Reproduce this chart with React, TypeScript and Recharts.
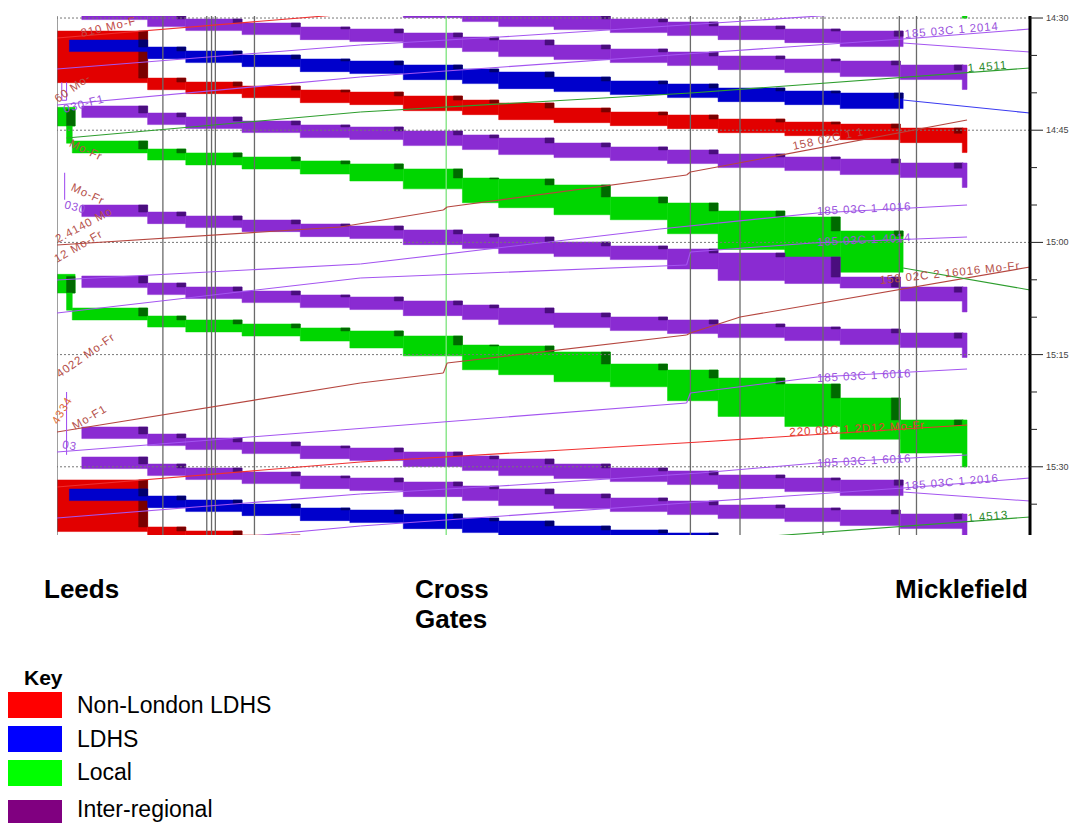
import React from 'react';
import { ComposedChart, XAxis, YAxis, ReferenceArea, ReferenceLine, ReferenceDot } from 'recharts';

// ---- distance axis (miles from Leeds) ----
const SECTION_BOUNDS = [0.26, 0.95, 1.35, 1.94, 2.55, 3.07, 3.63, 4.25, 4.63, 5.21, 5.8, 6.4, 6.93, 7.63, 8.21, 8.84, 9.5];
const TAIL_END_MILE = 9.54;
const TIMING_POINTS = [0, 1.11, 1.57, 1.62, 1.66, 2.07, 6.64, 7.16, 8.03, 8.83, 9.01];
const CROSS_GATES_MILE = 4.08;
const STATIONS = [
  { name: ['Leeds'], x: 44 },
  { name: ['Cross', 'Gates'], x: 415 },
  { name: ['Micklefield'], x: 895 },
];

// ---- time axis (minutes after 14:00) ----
const TIME_DOMAIN = [29.73, 99.12];
const TIME_TICKS = [30, 35, 40, 45, 50, 55, 60, 65, 70, 75, 80, 85, 90, 95];
const GRID_TIMES = [30, 45, 60, 75, 90];

// ---- blocking profiles: occupation start / end per section (minutes from start) ----
const EXPRESS_TOP = [0, 0.94, 1.47, 2.01, 2.54, 2.81, 3.34, 3.88, 4.28, 4.95, 5.48, 5.88, 6.42, 6.82, 7.09, 7.62];
const EXPRESS_BOTTOM = [1.55, 2.49, 3.02, 3.56, 4.23, 4.49, 5.3, 5.83, 6.5, 6.9, 7.3, 7.7, 8.24, 8.64, 9.17, 9.57];
const EXPRESS_TAIL = 10.9;

const LOCAL_TOP = [0, 1.07, 1.6, 2.14, 2.67, 3.07, 3.74, 4.95, 5.08, 5.88, 7.49, 8.29, 9.36, 10.16, 12.03, 14.97];
const LOCAL_BOTTOM = [1.6, 2.55, 3.2, 3.75, 4.42, 5.35, 6.4, 8.26, 8.92, 9.86, 10.53, 12.4, 14.5, 15.85, 17.55, 19.4];
const LOCAL_TAIL = 21.26;

const HELD_TOP = [0, 0.94, 1.47, 2.01, 2.54, 2.81, 3.34, 3.88, 4.28, 4.95, 5.48, 5.88, 6.42, 6.95, 9.63, 10.96];
const HELD_BOTTOM = [1.55, 2.49, 3.02, 3.56, 4.23, 4.49, 5.3, 5.83, 6.5, 6.9, 7.3, 8.55, 10.1, 10.5, 11.1, 12.85];
const HELD_TAIL = 14.3;

const PROFILES: Record<string, { top: number[]; bottom: number[]; tail: number }> = {
  express: { top: EXPRESS_TOP, bottom: EXPRESS_BOTTOM, tail: EXPRESS_TAIL },
  local: { top: LOCAL_TOP, bottom: LOCAL_BOTTOM, tail: LOCAL_TAIL },
  held: { top: HELD_TOP, bottom: HELD_BOTTOM, tail: HELD_TAIL },
};

// ---- down trains (thick blocking bands) ----
const TRAINS = [
  { id: 'G0', service: 'local', start: 8.77, profile: 'local', last: 15, tail: true },
  { id: '1A', service: 'inter', start: 24.65, profile: 'express', last: 14, endMile: 8.87 },
  { id: '1B', service: 'inter', start: 28.66, profile: 'express', last: 15, tail: true },
  { id: '1R', service: 'nonLondon', start: 37.09, profile: 'express', last: 15, tail: true, firstMile: 0, dwellTop: -5.35 },
  { id: '1L', service: 'ldhs', start: 32.94, profile: 'express', last: 14, endMile: 8.87, firstMile: 0.13 },
  { id: '1C', service: 'inter', start: 41.76, profile: 'express', last: 15, tail: true },
  { id: 'G1', service: 'local', start: 46.44, profile: 'local', last: 14, endMile: 8.87, firstMile: 0.16, leedsDwell: true },
  { id: '1D', service: 'inter', start: 55.0, profile: 'held', last: 15, tail: true },
  { id: '1E', service: 'inter', start: 64.49, profile: 'express', last: 15, tail: true },
  { id: 'G2', service: 'local', start: 68.77, profile: 'local', last: 15, tail: true, firstMile: 0.16, leedsDwell: true },
  { id: '2A', service: 'inter', start: 84.68, profile: 'express', last: 14, endMile: 8.87 },
  { id: '2B', service: 'inter', start: 88.69, profile: 'express', last: 15, tail: true },
  { id: '2R', service: 'nonLondon', start: 97.11, profile: 'express', last: 15, tail: true, firstMile: 0, dwellTop: -5.35 },
  { id: '2L', service: 'ldhs', start: 92.97, profile: 'express', last: 14, endMile: 8.87, firstMile: 0.13 },
];

const SERVICE_COLORS: Record<string, [string, string]> = {
  nonLondon: ['#E20000', '#7A0000'],
  ldhs: ['#0000CC', '#00006E'],
  local: ['#00D600', '#006A00'],
  inter: ['#8A2BD2', '#4A0E7E'],
};

// ---- thin path lines [mile, minute] ----
const THIN_LINES = [
  { color: '#B5463F', pts: [[0, 60.35], [2.97, 57.94], [4.05, 55.67], [4.09, 55.27], [6.6, 50.99], [6.64, 50.59], [9.54, 43.64]] },
  { color: '#B5463F', pts: [[0, 85.35], [0.45, 84.41], [3.18, 78.8], [4.05, 77.46], [4.09, 76.12], [6.6, 72.38], [6.64, 72.11], [7.13, 70.11], [7.16, 69.97], [10.2, 63.29]] },
  { color: '#F03030', pts: [[0, 32.67], [3.18, 29.33]] },
  { color: '#F03030', pts: [[0, 92.7], [3.18, 89.36], [6.74, 86.68], [9.54, 84.41]] },
  { color: '#A455F0', pts: [[0, 41.63], [3.18, 37.89], [6.74, 34.68], [8.87, 32.81], [10.2, 31.47]] },
  { color: '#A455F0', pts: [[0, 101.66], [3.18, 97.92], [6.74, 94.71], [8.87, 92.84], [10.2, 91.5]] },
  { color: '#A455F0', pts: [[0, 36.82], [3.18, 33.61], [4.64, 32.54], [6.74, 30.8], [9.54, 28.4]] },
  { color: '#A455F0', pts: [[0, 96.84], [3.18, 93.64], [4.64, 92.57], [6.74, 90.83], [7.97, 89.49], [9.54, 88.42]] },
  { color: '#A455F0', pts: [[0, 65.03], [3.18, 62.89], [6.32, 58.21], [7.97, 56.07], [9.54, 55.0]] },
  { color: '#A455F0', pts: [[0, 69.44], [3.18, 64.76], [6.6, 63.02], [6.64, 61.28], [7.92, 60.08], [9.54, 59.28]] },
  { color: '#A455F0', pts: [[0, 88.02], [2.97, 85.08], [6.6, 81.47], [6.64, 80.13], [7.97, 77.99], [9.54, 76.93]] },
  { color: '#2E9E2E', pts: [[0.1, 46.04], [3.18, 42.57], [6.64, 40.03], [10.2, 36.68]] },
  { color: '#2E9E2E', pts: [[0.1, 106.07], [3.18, 102.6], [6.64, 100.06], [10.2, 96.71]] },
  { color: '#2E9E2E', pts: [[8.87, 63.42], [10.2, 66.36]] },
  { color: '#3A3AF0', pts: [[8.87, 40.96], [10.2, 42.7]] },
  { color: '#A455F0', pts: [[8.87, 33.34], [10.2, 34.55]] },
  { color: '#A455F0', pts: [[8.87, 93.37], [10.2, 94.58]] },
  { color: '#A455F0', pts: [[0.05, 38.6], [0.05, 41.0], [0.1, 41.0], [0.1, 38.6]] },
  { color: '#A455F0', pts: [[0.08, 50.7], [0.08, 54.3]] },
  { color: '#A455F0', pts: [[0.1, 80.0], [0.1, 88.4]] },
];

// ---- path labels ----
const LINE_LABELS = [
  { text: '185  03C  1 2014', mile: 8.89, t: 32.67, color: '#9A52DD', angle: -5 },
  { text: '1 4511', mile: 9.55, t: 37.22, color: '#2A8A2A', angle: -5 },
  { text: '158  02C  1 1', mile: 7.72, t: 47.65, color: '#B5504A', angle: -12 },
  { text: '185  03C  1 4016', mile: 7.97, t: 56.34, color: '#9A52DD', angle: -3 },
  { text: '185  03C  1 4014', mile: 7.97, t: 60.48, color: '#9A52DD', angle: -3 },
  { text: '158  02C  2 16016 Mo-Fr', mile: 8.63, t: 65.56, color: '#B5504A', angle: -6 },
  { text: '185  03C  1 6016', mile: 7.97, t: 78.66, color: '#9A52DD', angle: -3 },
  { text: '220  03C  1 2D12 Mo-Fr', mile: 7.68, t: 85.88, color: '#E04030', angle: -3 },
  { text: '185  03C  1 6016', mile: 7.97, t: 90.03, color: '#9A52DD', angle: -3 },
  { text: '185  03C  1 2016', mile: 8.89, t: 93.1, color: '#9A52DD', angle: -5 },
  { text: '1 4513', mile: 9.55, t: 97.38, color: '#2A8A2A', angle: -5 },
  { text: '810 Mo-F', mile: 0.26, t: 32.54, color: '#C04848', angle: -13 },
  { text: '60 Mo-', mile: 0.01, t: 41.36, color: '#B5504A', angle: -35 },
  { text: '030-F1', mile: 0.08, t: 42.7, color: '#9A52DD', angle: -15 },
  { text: 'Mo-Fr', mile: 0.12, t: 47.11, color: '#B5504A', angle: 25 },
  { text: 'Mo-Fr', mile: 0.14, t: 53.0, color: '#B5504A', angle: 25 },
  { text: '030', mile: 0.07, t: 55.4, color: '#9A52DD', angle: 15 },
  { text: '2.4140 Mo', mile: 0.01, t: 60.08, color: '#B5504A', angle: -28 },
  { text: '12 Mo-Fr', mile: 0.0, t: 62.75, color: '#B5504A', angle: -30 },
  { text: '4022 Mo-Fr', mile: 0.03, t: 78.13, color: '#B5504A', angle: -35 },
  { text: '4334', mile: 0.01, t: 84.41, color: '#E07040', angle: -60 },
  { text: 'Mo-F1', mile: 0.19, t: 85.08, color: '#B5504A', angle: -30 },
  { text: '03', mile: 0.05, t: 87.49, color: '#9A52DD', angle: 10 },
];

const KEY_ITEMS = [
  { label: 'Non-London LDHS', color: '#FF0000', y: 692, base: 713 },
  { label: 'LDHS', color: '#0000FF', y: 726, base: 747 },
  { label: 'Local', color: '#00FF00', y: 760, base: 780 },
  { label: 'Inter-regional', color: '#800080', y: 800, base: 817 },
];

const DARK_W = 0.094;

function trainRects(train: any) {
  const prof = PROFILES[train.profile];
  const [fill, dark] = SERVICE_COLORS[train.service];
  const rects: any[] = [];
  const s = train.start;
  if (train.leedsDwell) {
    rects.push({ x1: 0, x2: 0.19, y1: s - 4.5, y2: s - 2.0, fill });
    rects.push({ x1: 0.1, x2: 0.19, y1: s - 4.2, y2: s - 2.0, fill: dark });
    rects.push({ x1: 0.1, x2: 0.16, y1: s - 2.0, y2: s + 0.3, fill });
  }
  for (let i = 0; i <= train.last; i++) {
    let x1 = SECTION_BOUNDS[i];
    let x2 = SECTION_BOUNDS[i + 1];
    if (i === 0 && train.firstMile != null) x1 = train.firstMile;
    if (i === train.last && train.endMile != null) x2 = train.endMile;
    let top = s + prof.top[i];
    if (i === 0 && train.dwellTop != null) top = s + train.dwellTop;
    const bottom = s + prof.bottom[i];
    rects.push({ x1, x2, y1: top, y2: bottom, fill });
    const nextTop = i < train.last ? s + prof.top[i + 1] : top + 0.7;
    rects.push({ x1: x2 - DARK_W, x2, y1: top, y2: nextTop, fill: dark });
  }
  if (train.tail) {
    rects.push({ x1: SECTION_BOUNDS[16] - 0.01, x2: TAIL_END_MILE, y1: s + prof.top[15], y2: s + prof.tail, fill });
  }
  return rects;
}

const fmtTime = (v: number) => {
  const h = 14 + Math.floor(v / 60);
  const m = v % 60;
  return `${h}:${m < 10 ? '0' + m : m}`;
};

const TimeTick = (props: any) => {
  const { x, y, payload } = props;
  const v = payload.value;
  const major = v % 15 === 0;
  return (
    <g>
      <line x1={x} x2={x + (major ? 13 : 7)} y1={y} y2={y} stroke="#222" strokeWidth={1} />
      {major && (
        <text x={x + 16} y={y + 3} fontSize={9} fill="#444">
          {fmtTime(v)}
        </text>
      )}
    </g>
  );
};

const AXIS_DATA = [{ mile: 0, t: 30 }, { mile: 10.2, t: 99 }];

export default function App() {
  const bandRects: any[] = [];
  TRAINS.forEach((tr) => {
    trainRects(tr).forEach((r, j) => bandRects.push({ ...r, key: `${tr.id}-${j}` }));
  });

  const segments: any[] = [];
  THIN_LINES.forEach((ln, i) => {
    for (let j = 0; j < ln.pts.length - 1; j++) {
      segments.push({
        key: `ln-${i}-${j}`,
        color: ln.color,
        a: { x: ln.pts[j][0], y: ln.pts[j][1] },
        b: { x: ln.pts[j + 1][0], y: ln.pts[j + 1][1] },
      });
    }
  });

  return (
    <div
      style={{
        position: 'absolute',
        left: 0,
        top: 0,
        width: 1075,
        height: 823,
        background: '#fff',
        overflow: 'hidden',
        fontFamily: '"Liberation Sans", Arial, sans-serif',
      }}
    >
      <div style={{ position: 'absolute', left: 0, top: 0 }}>
        <ComposedChart width={1075} height={560} data={AXIS_DATA} margin={{ top: 16, right: 0, bottom: 25, left: 57 }}>
          <XAxis dataKey="mile" type="number" domain={[0, 10.2]} allowDataOverflow hide />
          <YAxis
            type="number"
            orientation="right"
            reversed
            domain={TIME_DOMAIN}
            allowDataOverflow
            ticks={TIME_TICKS}
            interval={0}
            tick={<TimeTick />}
            tickLine={false}
            tickSize={0}
            tickMargin={0}
            axisLine={{ stroke: '#000', strokeWidth: 3 }}
            width={45}
          />
          {GRID_TIMES.map((t) => (
            <ReferenceLine key={`g-${t}`} y={t} stroke="#777" strokeDasharray="2 2" strokeWidth={1} ifOverflow="hidden" />
          ))}
          {TIMING_POINTS.map((m) => (
            <ReferenceLine key={`v-${m}`} x={m} stroke="#6a6a6a" strokeWidth={1.3} ifOverflow="hidden" />
          ))}
          <ReferenceLine x={CROSS_GATES_MILE} stroke="#7BE37B" strokeWidth={1.3} ifOverflow="hidden" />
          {bandRects.map((r) => (
            <ReferenceArea
              key={r.key}
              x1={r.x1}
              x2={r.x2}
              y1={r.y1}
              y2={r.y2}
              fill={r.fill}
              fillOpacity={1}
              stroke={r.fill}
              strokeWidth={0.5}
              ifOverflow="hidden"
            />
          ))}
          {segments.map((s) => (
            <ReferenceLine
              key={s.key}
              segment={[s.a, s.b]}
              stroke={s.color}
              strokeWidth={1.1}
              ifOverflow="hidden"
            />
          ))}
          {LINE_LABELS.map((l, i) => (
            <ReferenceDot
              key={`lb-${i}`}
              x={l.mile}
              y={l.t}
              r={1}
              ifOverflow="visible"
              shape={(p: any) => (
                <text
                  x={p.cx}
                  y={p.cy}
                  fontSize={11.5}
                  letterSpacing={0.9}
                  fill={l.color}
                  transform={`rotate(${l.angle} ${p.cx} ${p.cy})`}
                >
                  {l.text}
                </text>
              )}
            />
          ))}
        </ComposedChart>
      </div>
      <svg width={1075} height={823} style={{ position: 'absolute', left: 0, top: 0, pointerEvents: 'none' }}>
        {STATIONS.map((st) =>
          st.name.map((line, i) => (
            <text key={`${st.x}-${i}`} x={st.x} y={598 + i * 30} fontSize={26} fontWeight="bold" fill="#000">
              {line}
            </text>
          ))
        )}
        <text x={24} y={685} fontSize={21} fontWeight="bold" fill="#000">
          Key
        </text>
        {KEY_ITEMS.map((k) => (
          <g key={k.label}>
            <rect x={8} y={k.y} width={54} height={26} fill={k.color} />
            <text x={77} y={k.base} fontSize={23} fill="#000">
              {k.label}
            </text>
          </g>
        ))}
      </svg>
    </div>
  );
}
